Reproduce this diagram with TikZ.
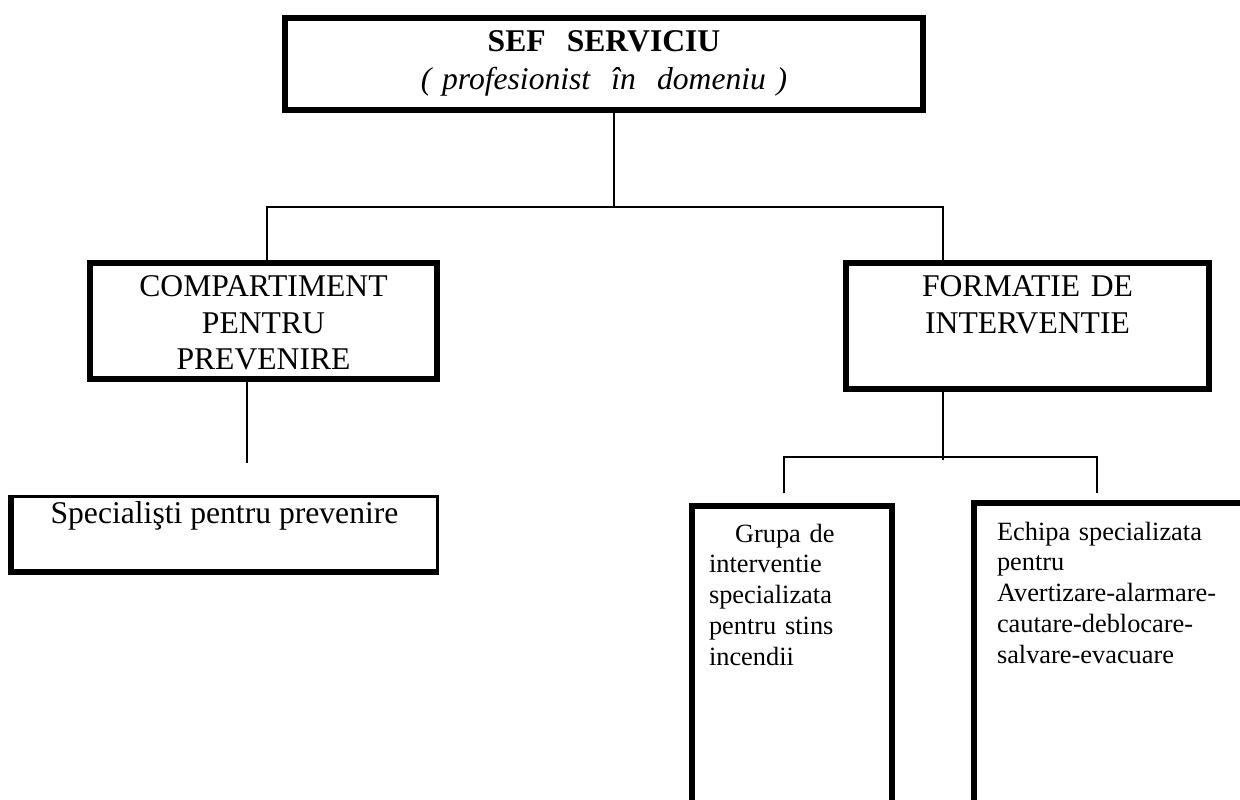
\documentclass[tikz,border=0pt]{standalone}
\usepackage{fontspec}
\setmainfont{Liberation Serif}
\usepackage{tikz}

\tikzset{
  orgbox/.style={draw, line width=0.12cm, inner sep=0pt, align=center, text height=0.68cm, font=\fontsize{18}{20.5}\selectfont},
  subbox/.style={draw, line width=0.12cm, inner sep=0pt, align=left, font=\fontsize{15}{17.6}\selectfont},
  link/.style={line width=1.3pt}
}

\begin{document}
\begin{tikzpicture}[node distance=2cm]
		\useasboundingbox (0,0) rectangle (24.8,-16);
		\clip (0,0) rectangle (24.8,-16);

		% Draw the head of the service
		\node (sef) [orgbox, minimum width=12.76cm, minimum height=1.84cm, text width=12.76cm, text depth=1.16cm] at (12.08,-1.28) {\textbf{SEF\ \ SERVICIU}\\[1pt]\textit{( profesionist\ \ în\ \ domeniu )}};

		% Draw the two departments
		\node (comp) [orgbox, minimum width=6.94cm, minimum height=2.32cm, text width=6.94cm, text depth=1.64cm, below of=sef, xshift=-6.81cm, yshift=-3.14cm] {COMPARTIMENT\\PENTRU\\PREVENIRE};
		\node (form) [orgbox, minimum width=7.26cm, minimum height=2.52cm, text width=7.26cm, text depth=1.84cm, right of=comp, xshift=13.28cm, yshift=-0.10cm] {FORMATIE DE\\INTERVENTIE};

		% Draw the specialists box
		\node (spec) [draw, line width=0.06cm, inner sep=0pt, minimum width=8.5cm, minimum height=1.48cm, text height=0.54cm, text depth=0.94cm, font=\fontsize{18}{20.5}\selectfont, below of=comp, xshift=-0.78cm, yshift=-2.24cm] {Specialişti pentru prevenire};
		\draw[line width=0.12cm] (spec.north west) -- (spec.south west) -- (spec.south east);

		% Draw the intervention teams
		\node (grupa) [subbox, minimum width=4cm, minimum height=7.88cm, inner xsep=0.34cm, text width=3.32cm, text height=0.72cm, text depth=7.16cm, below of=form, xshift=-4.71cm, yshift=-5.54cm] {\hspace*{0.52cm}Grupa de\\interventie\\specializata\\pentru stins\\incendii};
		\node (echipa) [subbox, minimum width=6.52cm, minimum height=7.94cm, inner xsep=0.46cm, text width=5.6cm, text height=0.74cm, text depth=7.2cm, right of=grupa, xshift=4.90cm, yshift=0.03cm] {Echipa specializata\\pentru\\Avertizare-alarmare-\\cautare-deblocare-\\salvare-evacuare};

		% Points of the tree lines
		\coordinate (hub) at (12.28,-4.14);
		\coordinate (hubL) at (5.34,-4.14);
		\coordinate (hubR) at (18.86,-4.14);
		\coordinate (compend) at (4.94,-9.26);
		\coordinate (sub) at (18.86,-9.14);
		\coordinate (subL) at (15.68,-9.14);
		\coordinate (subR) at (21.94,-9.14);

		% Connect the boxes
		\draw[link] (sef.south -| hub) -- (hub);
		\draw[link] (hubL |- comp.north) -- (hubL) -- (hubR) -- (hubR |- form.north);
		\draw[link] (comp.south -| compend) -- (compend);
		\draw[link] (form.south -| sub) -- ([yshift=-0.06cm]sub);
		\draw[link] ([yshift=-0.72cm]subL) -- (subL) -- (subR) -- ([yshift=-0.72cm]subR);
\end{tikzpicture}
\end{document}
